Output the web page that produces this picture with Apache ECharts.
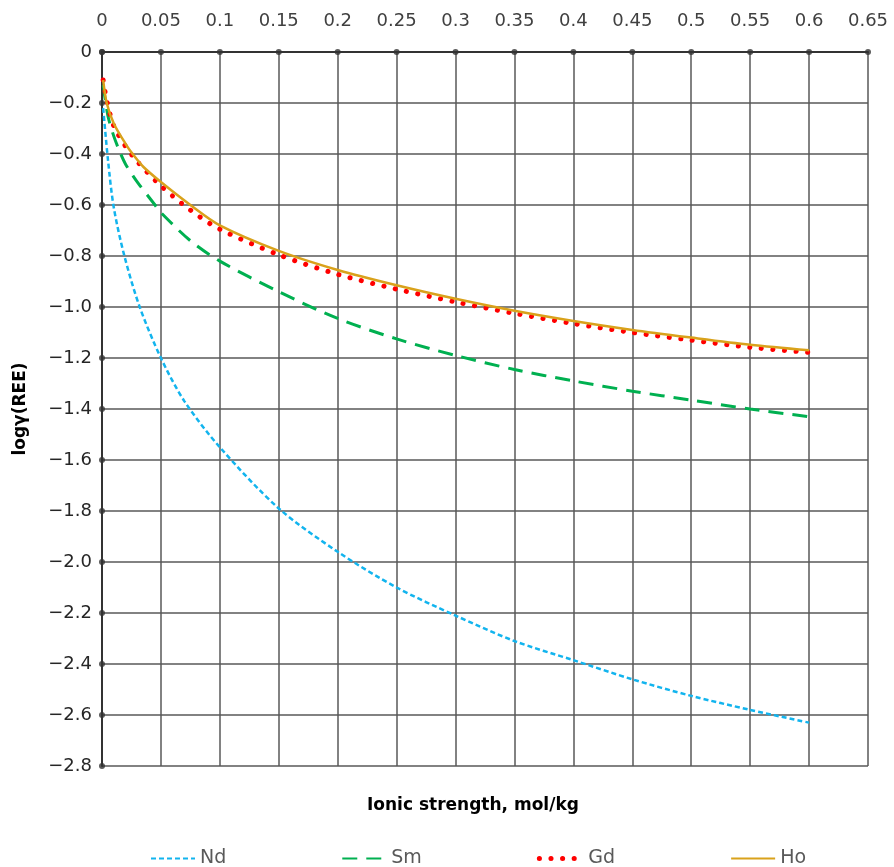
<!DOCTYPE html>
<html lang="en">
<head>
  <meta charset="UTF-8">
  <title>log gamma REE</title>
  <style>
    html, body { margin: 0; padding: 0; background: #fff; }
    #chart { width: 894px; height: 867px; }
  </style>
</head>
<body>
  <div id="chart"></div>
  <script src="https://cdn.jsdelivr.net/npm/echarts@6/dist/echarts.min.js"></script>
  <script>
    // values
    const ionicNd = [0.001, 0.005, 0.01, 0.019, 0.032, 0.05, 0.07, 0.1, 0.15, 0.2, 0.25, 0.3, 0.35, 0.4, 0.45, 0.5, 0.55, 0.6]
    const nd = [-0.22, -0.42, -0.61, -0.80, -1.0, -1.2, -1.37, -1.55, -1.79, -1.96, -2.10, -2.21, -2.31, -2.385, -2.46, -2.525, -2.58, -2.63]

    const ionicSm = [0.001, 0.005, 0.01, 0.015, 0.02, 0.03, 0.045, 0.05, 0.075, 0.1, 0.15, 0.2, 0.25, 0.3, 0.35, 0.4, 0.45, 0.5, 0.55, 0.6]
    const sm = [-0.13, -0.25, -0.33, -0.39, -0.44, -0.51, -0.60, -0.63, -0.74, -0.82, -0.94, -1.045, -1.125, -1.19, -1.245, -1.29, -1.33, -1.365, -1.40, -1.43]

    const ionicGd = [0.001, 0.004, 0.01, 0.02, 0.03, 0.05, 0.075, 0.1, 0.15, 0.2, 0.25, 0.3, 0.35, 0.4, 0.45, 0.5, 0.55, 0.6]
    const gd = [-0.11, -0.19, -0.29, -0.37, -0.43, -0.525, -0.62, -0.695, -0.795, -0.872, -0.93, -0.98, -1.025, -1.065, -1.1, -1.13, -1.158, -1.178]

    const ionicHo = [0.001, 0.004, 0.01, 0.02, 0.026, 0.035, 0.05, 0.075, 0.1, 0.15, 0.2, 0.25, 0.3, 0.35, 0.4, 0.45, 0.5, 0.55, 0.6]
    const ho = [-0.11, -0.2, -0.28, -0.36, -0.40, -0.45, -0.51, -0.60, -0.68, -0.78, -0.855, -0.915, -0.968, -1.015, -1.055, -1.09, -1.12, -1.148, -1.17]

    const xTicks = [0, 0.05, 0.1, 0.15, 0.2, 0.25, 0.3, 0.35, 0.4, 0.45, 0.5, 0.55, 0.6, 0.65]
    const yTicks = [0, -0.2, -0.4, -0.6, -0.8, -1.0, -1.2, -1.4, -1.6, -1.8, -2.0, -2.2, -2.4, -2.6, -2.8]

    const font = 'DejaVu Sans'
    const zip = (xs, ys) => xs.map((x, i) => [x, ys[i]])

    // little dots the original draws on each tick
    const tickDots = xTicks.map(x => [x, 0]).concat(yTicks.map(y => [0, y]))

    const chart = echarts.init(document.getElementById('chart'))
    chart.setOption({
      animation: false,
      grid: { left: 102, right: 26, top: 52, bottom: 101 },
      title: {
        text: 'Ionic strength, mol/kg',
        left: 362, top: 792,
        textStyle: { fontFamily: font, fontWeight: 'bold', fontSize: 17, color: '#000' }
      },
      legend: {
        data: [
          { name: 'Nd' },
          { name: 'Sm' },
          { name: 'Gd', lineStyle: { width: 5 } },
          { name: 'Ho' }
        ],
        top: 844,
        left: 145,
        itemWidth: 44,
        itemHeight: 14,
        itemGap: 115,
        itemStyle: { opacity: 0 },
        textStyle: { fontFamily: font, fontSize: 19, color: '#595959' }
      },
      xAxis: {
        type: 'value',
        position: 'top',
        min: 0, max: 0.65, interval: 0.05,
        axisLine: { onZero: false, lineStyle: { color: '#333', width: 2 } },
        axisTick: { show: false },
        axisLabel: { fontFamily: font, fontSize: 18, color: '#404040', margin: 22 },
        splitLine: { lineStyle: { color: '#595959', width: 1.5 } }
      },
      yAxis: {
        type: 'value',
        min: -2.8, max: 0, interval: 0.2,
        name: 'logγ(REE)',
        nameLocation: 'middle',
        nameGap: 73,
        nameTextStyle: { fontFamily: font, fontWeight: 'bold', fontSize: 17, color: '#000' },
        axisLine: { onZero: false, lineStyle: { color: '#333', width: 2 } },
        axisTick: { show: false },
        axisLabel: {
          fontFamily: font, fontSize: 18, color: '#262626', margin: 10,
          formatter: v => v === 0 ? '0' : '\u2212' + Math.abs(v).toFixed(1)
        },
        splitLine: { lineStyle: { color: '#595959', width: 1.5 } }
      },
      series: [
        {
          name: 'Nd', type: 'line', data: zip(ionicNd, nd), symbol: 'none', smooth: 0.3,
          lineStyle: { color: '#12B4EE', width: 2.5, type: [5, 3] },
          itemStyle: { color: '#12B4EE' }
        },
        {
          name: 'Sm', type: 'line', data: zip(ionicSm, sm), symbol: 'none', smooth: 0.3,
          lineStyle: { color: '#00B050', width: 3, type: [15, 9] },
          itemStyle: { color: '#00B050' }
        },
        {
          name: 'Gd', type: 'line', data: zip(ionicGd, gd), symbol: 'none', smooth: 0.3,
          lineStyle: { color: '#FF0000', width: 5, type: [0.1, 11.5], cap: 'round' },
          itemStyle: { color: '#FF0000' }
        },
        {
          name: 'Ho', type: 'line', data: zip(ionicHo, ho), symbol: 'none', smooth: 0.3,
          lineStyle: { color: '#D9A21B', width: 2.5 },
          itemStyle: { color: '#D9A21B' }
        },
        {
          name: 'ticks', type: 'scatter', data: tickDots, symbolSize: 6,
          itemStyle: { color: '#333' }, silent: true, z: 5
        }
      ]
    })
  </script>
</body>
</html>
